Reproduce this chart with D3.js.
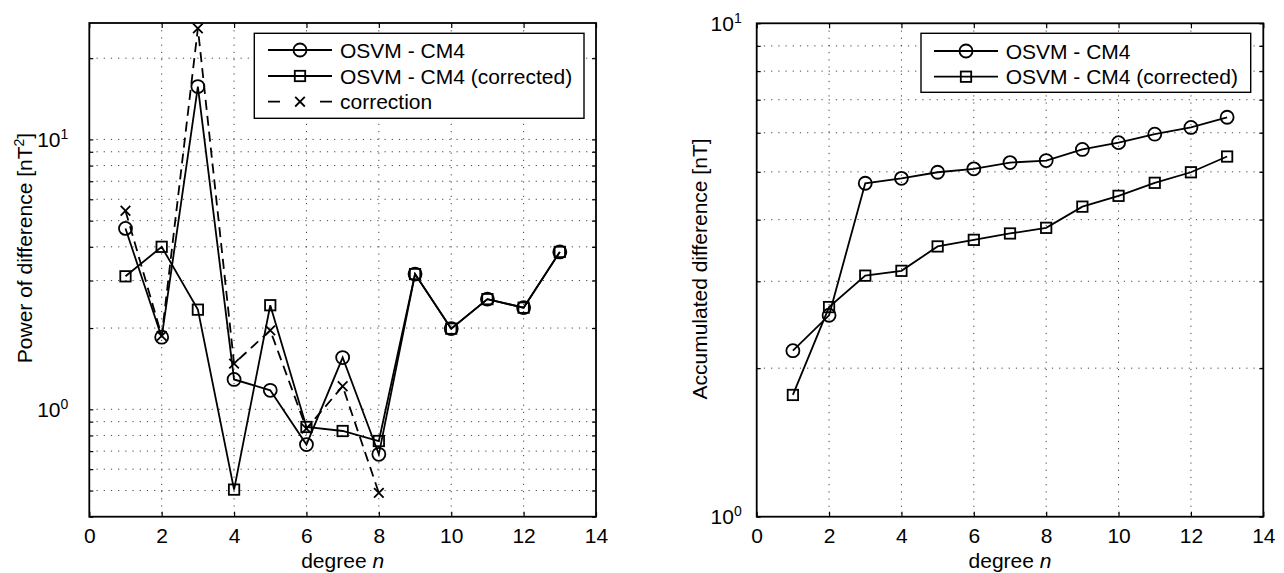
<!DOCTYPE html>
<html><head><meta charset="utf-8">
<script src="https://cdn.jsdelivr.net/npm/d3@7"></script>
<style>
body{margin:0;background:#fff}
svg{display:block}
text{font-family:"Liberation Sans",Arial,Helvetica,sans-serif;fill:#000}
</style>
</head><body>
<svg id="c" width="1284" height="573"></svg>
<script>
// ---------- data ----------
const degrees = [1,2,3,4,5,6,7,8,9,10,11,12,13];
const powerOsvm      = [4.68,1.85,15.7,1.29,1.176,0.740,1.555,0.681,3.17,1.99,2.56,2.38,3.83];
const powerCorrected = [3.11,4.00,2.34,0.504,2.43,0.86,0.831,0.763,3.17,1.99,2.56,2.38,3.83];
const correctionDegrees = [1,2,3,4,5,6,7,8];
const correction     = [5.44,1.87,25.8,1.477,1.96,0.848,1.217,0.49];
const accOsvm        = [2.17,2.56,4.74,4.85,4.99,5.07,5.22,5.27,5.55,5.73,5.96,6.15,6.45];
const accCorrected   = [1.765,2.66,3.08,3.15,3.53,3.64,3.75,3.85,4.25,4.47,4.75,4.99,5.37];
const xTickValues = [0,2,4,6,8,10,12,14];
const xLabel = "degree ";
const xLabelItalic = "n";
const leftYLabel = ["Power of difference [nT", "2", "]"];
const rightYLabel = "Accumulated difference [nT]";
const legendLeft = ["OSVM - CM4", "OSVM - CM4 (corrected)", "correction"];
const legendRight = ["OSVM - CM4", "OSVM - CM4 (corrected)"];

// ---------- drawing ----------
const svg = d3.select("#c");
const FS = 21;
const LW = 1.8;

function marker(g, type, cx, cy) {
  if (type === "circle") {
    g.append("circle").attr("cx", cx).attr("cy", cy).attr("r", 6.5)
      .attr("fill", "none").attr("stroke", "#000").attr("stroke-width", LW);
  } else if (type === "square") {
    g.append("rect").attr("x", cx - 5.2).attr("y", cy - 5.2).attr("width", 10.4).attr("height", 10.4)
      .attr("fill", "none").attr("stroke", "#000").attr("stroke-width", LW);
  } else if (type === "x") {
    const s = 4.8;
    g.append("path").attr("d", `M${cx-s},${cy-s}L${cx+s},${cy+s}M${cx-s},${cy+s}L${cx+s},${cy-s}`)
      .attr("stroke", "#000").attr("stroke-width", LW).attr("fill", "none");
  }
}

function panel(cfg) {
  const g = svg.append("g");
  const x = d3.scaleLinear([0, 14], [cfg.left, cfg.right]);
  const y = d3.scaleLog(cfg.ydom, [cfg.bottom, cfg.top]);
  const yTicks = y.ticks();
  const yMajors = yTicks.filter(v => Math.abs(Math.log10(v) - Math.round(Math.log10(v))) < 1e-9);

  // grid
  const grid = g.append("g").attr("stroke", "#444").attr("stroke-width", 1)
    .attr("stroke-dasharray", "1.2,6").attr("fill", "none");
  xTickValues.filter(v => v > 0 && v < 14).forEach(v => {
    grid.append("line").attr("x1", x(v)).attr("x2", x(v)).attr("y1", cfg.top).attr("y2", cfg.bottom);
  });
  yTicks.filter(v => y(v) > cfg.top + 1 && y(v) < cfg.bottom - 1).forEach(v => {
    grid.append("line").attr("y1", y(v)).attr("y2", y(v)).attr("x1", cfg.left).attr("x2", cfg.right);
  });

  // series
  cfg.series.forEach(s => {
    const pts = s.xs.map((d, i) => [d, s.ys[i]]);
    const line = d3.line().x(d => x(d[0])).y(d => y(d[1]));
    g.append("path").attr("d", line(pts)).attr("fill", "none").attr("stroke", "#000")
      .attr("stroke-width", LW).attr("stroke-dasharray", s.dash || null)
      .attr("stroke-linejoin", "miter");
    const mg = g.append("g");
    pts.forEach(p => marker(mg, s.marker, x(p[0]), y(p[1])));
  });

  // axes (ticks inward)
  const axB = g.append("g").attr("transform", `translate(0,${cfg.bottom})`)
    .call(d3.axisBottom(x).tickValues(xTickValues).tickSize(-5).tickSizeOuter(0).tickPadding(11.7));
  const axT = g.append("g").attr("transform", `translate(0,${cfg.top})`)
    .call(d3.axisTop(x).tickValues(xTickValues).tickSize(-5).tickSizeOuter(0).tickFormat(""));
  const axL = g.append("g").attr("transform", `translate(${cfg.left},0)`)
    .call(d3.axisLeft(y).tickValues(yTicks).tickSize(-4).tickSizeOuter(0).tickFormat(""));
  const axR = g.append("g").attr("transform", `translate(${cfg.right},0)`)
    .call(d3.axisRight(y).tickValues(yTicks).tickSize(-4).tickSizeOuter(0).tickFormat(""));
  [axB, axT, axL, axR].forEach(a => {
    a.select(".domain").remove();
    a.selectAll(".tick line").attr("stroke", "#000").attr("stroke-width", 1.2);
  });
  axB.selectAll(".tick text").attr("font-size", FS).attr("font-family", '"Liberation Sans",Arial,sans-serif').attr("fill", "#000");

  // y major labels 10^k
  yMajors.forEach(v => {
    const t = g.append("text").attr("x", cfg.left - cfg.labelGap).attr("y", y(v) + 7.5)
      .attr("text-anchor", "end").attr("font-size", FS);
    t.append("tspan").text("10");
    t.append("tspan").attr("dy", -8).attr("font-size", 14).text(String(Math.round(Math.log10(v))));
  });

  // frame
  g.append("rect").attr("x", cfg.left).attr("y", cfg.top)
    .attr("width", cfg.right - cfg.left).attr("height", cfg.bottom - cfg.top)
    .attr("fill", "none").attr("stroke", "#000").attr("stroke-width", 1.8);

  // x label
  const xl = g.append("text").attr("x", (cfg.left + cfg.right) / 2).attr("y", 568)
    .attr("text-anchor", "middle").attr("font-size", FS);
  xl.append("tspan").text(xLabel);
  xl.append("tspan").attr("font-style", "italic").text(xLabelItalic);

  // y label
  const yl = g.append("text").attr("transform", `translate(${cfg.ylabelX},${cfg.ylabelY}) rotate(-90)`)
    .attr("text-anchor", "middle").attr("font-size", FS);
  cfg.ylabel(yl);

  // legend
  const L = cfg.legend;
  const lg = g.append("g");
  lg.append("rect").attr("x", L.x0).attr("y", L.y0).attr("width", L.x1 - L.x0).attr("height", L.y1 - L.y0)
    .attr("fill", "#fff").attr("stroke", "#000").attr("stroke-width", 1.4);
  L.items.forEach((it, i) => {
    const cy = L.rows[i];
    lg.append("line").attr("x1", L.lx0).attr("x2", L.lx1).attr("y1", cy).attr("y2", cy)
      .attr("stroke", "#000").attr("stroke-width", LW)
      .attr("stroke-dasharray", it.dash ? "12,40,12" : null);
    marker(lg, it.marker, (L.lx0 + L.lx1) / 2, cy);
    lg.append("text").attr("x", L.tx).attr("y", cy + 7.5).attr("font-size", FS).text(it.label);
  });
}

panel({
  left: 89.3, right: 596, top: 23, bottom: 516.7, ydom: [0.4, 27], labelGap: 21,
  ylabelX: 32, ylabelY: 248,
  ylabel: t => {
    t.append("tspan").text(leftYLabel[0]);
    t.append("tspan").attr("dy", -8).attr("font-size", 14).text(leftYLabel[1]);
    t.append("tspan").attr("dy", 8).text(leftYLabel[2]);
  },
  series: [
    {xs: degrees, ys: powerOsvm, marker: "circle"},
    {xs: degrees, ys: powerCorrected, marker: "square"},
    {xs: correctionDegrees, ys: correction, marker: "x", dash: "10,6"}
  ],
  legend: {x0: 254.3, x1: 584, y0: 33.3, y1: 118.3, rows: [50, 76, 101.7], lx0: 268, lx1: 332, tx: 340,
    items: [
      {label: legendLeft[0], marker: "circle"},
      {label: legendLeft[1], marker: "square"},
      {label: legendLeft[2], marker: "x", dash: true}
    ]}
});

panel({
  left: 756.7, right: 1263.3, top: 23.3, bottom: 516.7, ydom: [1, 10], labelGap: 15,
  ylabelX: 707, ylabelY: 269,
  ylabel: t => { t.text(rightYLabel); },
  series: [
    {xs: degrees, ys: accOsvm, marker: "circle"},
    {xs: degrees, ys: accCorrected, marker: "square"}
  ],
  legend: {x0: 921, x1: 1250.7, y0: 33.3, y1: 92.3, rows: [51, 76.7], lx0: 934, lx1: 998, tx: 1005.7,
    items: [
      {label: legendRight[0], marker: "circle"},
      {label: legendRight[1], marker: "square"}
    ]}
});
</script>
</body></html>
